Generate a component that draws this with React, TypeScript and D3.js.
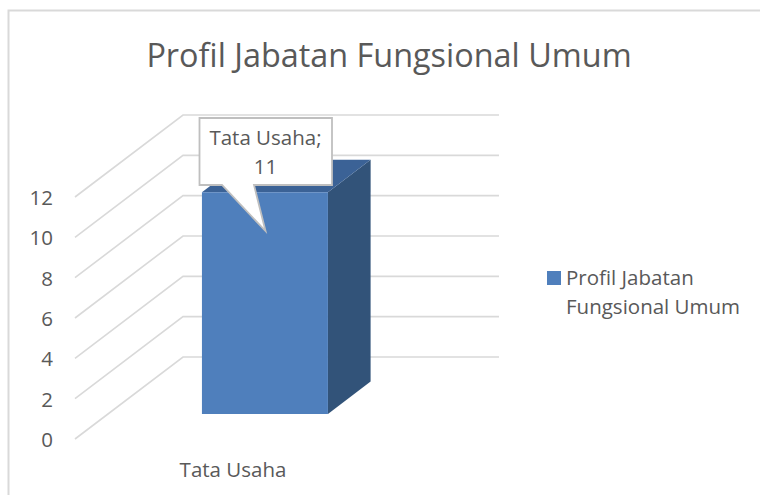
import React from 'react';
import * as d3 from 'd3';

const categories = ['Tata Usaha'];
const values = [11];
const yTicks = [0, 2, 4, 6, 8, 10, 12];
const chartTitle = 'Profil Jabatan Fungsional Umum';
const legendLines = ['Profil Jabatan', 'Fungsional Umum'];

const WIDTH = 760;
const HEIGHT = 495;
const FONT = '"Open Sans", "Noto Sans", sans-serif';
const TEXT = '#595959';
const GRID = '#d9d9d9';

// front plane of the fake 3d box, depth runs from 0 (front) to 1 (back wall)
const y = d3.scaleLinear().domain([0, 12]).range([439, 197]);
const x = d3.scaleBand().domain(categories).range([75, 391]);
const depthX = d3.scaleLinear().domain([0, 1]).range([0, 108]);
const depthY = d3.scaleLinear().domain([0, 1]).range([0, -82]);

const project = (px: number, value: number, depth: number): [number, number] => [
  px + depthX(depth),
  y(value) + depthY(depth),
];

const line = d3.line();
const poly = (pts: [number, number][]) => line(pts) + 'Z';

const App = () => {
  const cat = categories[0];
  const value = values[0];
  const barLeft = (x(cat) as number) + 94;
  const barRight = barLeft + 126;
  const d0 = 0.305;
  const d1 = 0.7;

  return (
    <svg width={WIDTH} height={HEIGHT} style={{ position: 'absolute', left: 0, top: 0, background: '#fff' }}>
      {/* chart frame, cropped on the right and bottom */}
      <path d="M8.5,495V10.5H760" fill="none" stroke={GRID} strokeWidth={2} />

      <text x={389} y={67} textAnchor="middle" fontFamily={FONT} fontSize={32.4} fill={TEXT}>
        {chartTitle}
      </text>

      {yTicks.map((t) => {
        const a = project(x.range()[0], t, 0);
        const b = project(x.range()[0], t, 1);
        const c = project(x.range()[1], t, 1);
        return (
          <g key={t}>
            <path d={line([a, b, c]) as string} fill="none" stroke={GRID} strokeWidth={1.6} />
            <text x={53} y={y(t) + 8} textAnchor="end" fontFamily={FONT} fontSize={20.5} fill={TEXT}>
              {t}
            </text>
          </g>
        );
      })}

      {/* bar: side, top, front */}
      <path
        d={poly([
          project(barRight, 0, d0),
          project(barRight, 0, d1),
          project(barRight, value, d1),
          project(barRight, value, d0),
        ])}
        fill="#325379"
      />
      <path
        d={poly([
          project(barLeft, value, d0),
          project(barRight, value, d0),
          project(barRight, value, d1),
          project(barLeft, value, d1),
        ])}
        fill="#3b6296"
      />
      <path
        d={poly([
          project(barLeft, 0, d0),
          project(barRight, 0, d0),
          project(barRight, value, d0),
          project(barLeft, value, d0),
        ])}
        fill="#4f7fbc"
      />

      {/* data label callout */}
      <path
        d="M199.5,118H332V185H254L265.5,231L222,185H199.5Z"
        fill="#fff"
        stroke="#bfbfbf"
        strokeWidth={1.8}
      />
      <text textAnchor="middle" fontFamily={FONT} fontSize={20.5} fill={TEXT}>
        <tspan x={265.5} y={145}>
          {cat};
        </tspan>
        <tspan x={265.5} y={174}>
          {value}
        </tspan>
      </text>

      <text x={233} y={477} textAnchor="middle" fontFamily={FONT} fontSize={20.5} fill={TEXT}>
        {cat}
      </text>

      {/* legend */}
      <rect x={547} y={271} width={14} height={14} fill="#4f7fbc" />
      <text fontFamily={FONT} fontSize={20.5} fill={TEXT}>
        {legendLines.map((l, i) => (
          <tspan key={l} x={566} y={285 + i * 29}>
            {l}
          </tspan>
        ))}
      </text>
    </svg>
  );
};

export default App;
